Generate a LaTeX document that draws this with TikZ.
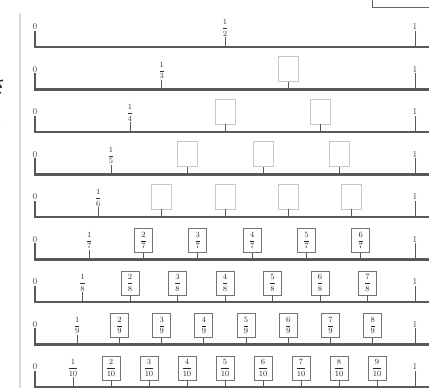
\documentclass[tikz,border=0pt]{standalone}
\usepackage{amsmath,amssymb}
\usepackage{fontspec}
\newfontfamily\jpfont{Noto Sans CJK JP}
\usetikzlibrary{arrows.meta}

\tikzset{
  numline/.style={line width=2.6pt, black!65},
  tickline/.style={line width=1pt, black!65},
  zerolabel/.style={font=\fontsize{9}{9}\selectfont, text=black!75, inner sep=0.5pt},
  fraclabel/.style={font=\footnotesize, text=black!80, inner sep=0.5pt},
  blankbox/.style={draw=black!22, line width=0.8pt, minimum width=20pt, minimum height=25pt, inner sep=0pt},
  fracbox/.style={draw=black!55, line width=0.8pt, minimum width=18pt, minimum height=24pt, inner sep=0pt, font=\footnotesize, text=black!85},
}

\begin{document}
\begin{tikzpicture}[x=1pt,y=-1pt]
\useasboundingbox (0,0) rectangle (429,388);
\clip (0,0) rectangle (429,388);

% Page edge and corner box
\draw[black!15, line width=1.2pt] (20,13) -- (20,390);
\draw[black!60, line width=0.8pt] (372,-2) -- (372,7) -- (432,7);

% Cut-off text on the left
\node[text=black!85, font=\jpfont\fontsize{20}{20}\selectfont] (jpa) at (-3,86) {さ};
\node[text=black!85, font=\jpfont\fontsize{20}{20}\selectfont] (jpb) at (-8,121) {か};
\node[text=black!85, font=\jpfont\fontsize{20}{20}\selectfont] (jpc) at (-8,168) {い};

% Number lines from 1/2 to 1/10
\foreach \n [count=\k from 0] in {2,...,10} {
  \pgfmathsetmacro{\yl}{47+42.5*\k}
  \coordinate (s\n) at (35,\yl);
  \node[zerolabel] (z\n) at (35,\yl-20) {0};
  \draw[numline] (z\n.south) -- (s\n) -- (432,\yl);
  % one
  \node[zerolabel] (o\n) at (415,\yl-20) {1};
  \draw[tickline] (o\n.south) -- (415,\yl);
  % unit fraction
  \pgfmathsetmacro{\xa}{35+380/\n}
  \node[fraclabel] (u\n) at (\xa,\yl-19) {$\dfrac{1}{\n}$};
  \draw[tickline] (u\n.south) -- (\xa,\yl);
  % boxes
  \ifnum\n>2
    \pgfmathtruncatemacro{\m}{\n-1}
    \foreach \i in {2,...,\m} {
      \pgfmathsetmacro{\xb}{35+380*\i/\n}
      \ifnum\n<7
        \node[blankbox] (b\n-\i) at (\xb,\yl-20.5) {};
      \else
        \node[fracbox] (b\n-\i) at (\xb,\yl-19) {$\dfrac{\i}{\n}$};
      \fi
      \draw[tickline] (b\n-\i.south) -- (\xb,\yl);
    }
  \fi
}

\end{tikzpicture}
\end{document}
